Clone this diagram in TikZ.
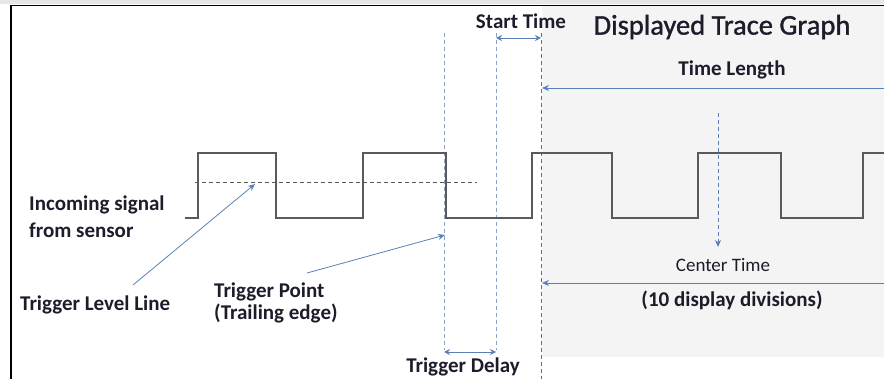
\documentclass[tikz,border=0pt]{standalone}
\usepackage{fontspec}
\setmainfont{Carlito}
\newfontfamily\titlefont{Carlito}[FakeBold=1.2]
\usetikzlibrary{arrows.meta}
\definecolor{arrowblue}{HTML}{5A80B8}
\definecolor{guideblue}{HTML}{8C9DC6}
\definecolor{guidered}{HTML}{D2434C}
\definecolor{signalgray}{HTML}{5A5A5A}
\definecolor{panelgray}{HTML}{F4F4F4}
\definecolor{topgray}{HTML}{E6E6E6}
\definecolor{inkdark}{HTML}{1E1B2A}
\tikzset{
	lbl/.style={font=\fontsize{21}{24}\selectfont\bfseries, text=inkdark, inner sep=0pt},
	note/.style={font=\fontsize{19}{22}\selectfont, text=inkdark, inner sep=0pt},
	title/.style={font=\titlefont\fontsize{28.5}{32}\selectfont, text=inkdark, inner sep=0pt},
	pointer/.style={draw=arrowblue, line width=0.9pt, -{Stealth[length=7pt, width=6pt]}},
	span/.style={draw=arrowblue, line width=0.9pt, {Stealth[length=6pt, width=6pt]}-{Stealth[length=6pt, width=6pt]}},
	guide/.style={draw=guideblue, line width=0.8pt, dash pattern=on 4pt off 3pt},
	signal/.style={draw=signalgray, line width=1.4pt}
}
\begin{document}
\begin{tikzpicture}[x=1pt, y=-1pt]
		\useasboundingbox (0,0) rectangle (884,379);
		% background and frame
		\fill[topgray] (0,0) rectangle (884,4);
		\fill[panelgray] (542,6) rectangle (884,357);
		\draw[line width=1.6pt] (11,379) -- (11,5.5) -- (884,5.5);
		% marker line ends
		\coordinate (TrigTop) at (444,33);
		\coordinate (TrigBot) at (444,350);
		\coordinate (StartTop) at (496,33);
		\coordinate (StartBot) at (496,350);
		\coordinate (DispTop) at (541,33);
		\coordinate (DispBot) at (541,379);
		% marker lines
		\draw[guide] (TrigTop) -- (TrigBot);
		\draw[guide] (StartTop) -- (StartBot);
		\draw[guide, draw=guidered] (DispTop) -- (DispBot);
		% incoming signal
		\draw[signal] (185,218) -- (198,218) -- (198,153) -- (276,153) -- (276,218)
			-- (363,218) -- (363,153) -- (446,153) -- (446,218) -- (532,218)
			-- (532,153) -- (612,153) -- (612,218) -- (698,218) -- (698,153)
			-- (781,153) -- (781,218) -- (863,218) -- (863,153) -- (884,153);
		% trigger level line
		\coordinate (LevelA) at (195,182);
		\coordinate (LevelB) at (477,182);
		\draw[draw=signalgray, line width=0.8pt, dash pattern=on 4pt off 3pt] (LevelA) -- (LevelB);
		% text nodes
		\node[lbl] (StartT) at (521,21) {Start Time};
		\node[title] (TitleT) at (722,27) {Displayed Trace Graph};
		\node[lbl] (LengthT) at (732,70) {Time Length};
		\node[lbl, anchor=west] (SignalA) at (29,205) {Incoming signal};
		\node[lbl, anchor=west] (SignalB) at (29,230) {from sensor};
		\node[lbl, anchor=west] (LevelT) at (20,305) {Trigger Level Line};
		\node[lbl, anchor=west] (PointA) at (214,292) {Trigger Point};
		\node[lbl, anchor=west] (PointB) at (214,313) {(Trailing edge)};
		\node[note] (CenterT) at (723,265) {Center Time};
		\node[lbl] (DivT) at (732,300) {(10 display divisions)};
		\node[lbl] (DelayT) at (463,367) {Trigger Delay};
		% arrow ends
		\coordinate (StartL) at (496,38);
		\coordinate (StartR) at (541,38);
		\coordinate (DelayL) at (444,352);
		\coordinate (DelayR) at (496,352);
		\coordinate (LengthR) at (884,88);
		\coordinate (LengthL) at (542,88);
		\coordinate (DivR) at (884,283);
		\coordinate (DivL) at (542,283);
		\coordinate (CenterA) at (718,113);
		\coordinate (CenterB) at (718,247);
		\coordinate (LevelFoot) at (133,285);
		\coordinate (LevelTip) at (255,184);
		\coordinate (PointFoot) at (307,273);
		\coordinate (PointTip) at (445,235);
		% arrows
		\draw[span] (StartL) -- (StartR);
		\draw[span] (DelayL) -- (DelayR);
		\draw[pointer] (LengthR) -- (LengthL);
		\draw[pointer] (DivR) -- (DivL);
		\draw[pointer, dash pattern=on 4pt off 3pt] (CenterA) -- (CenterB);
		\draw[pointer, line width=0.8pt] (LevelFoot) -- (LevelTip);
		\draw[pointer, line width=0.8pt] (PointFoot) -- (PointTip);
\end{tikzpicture}
\end{document}
